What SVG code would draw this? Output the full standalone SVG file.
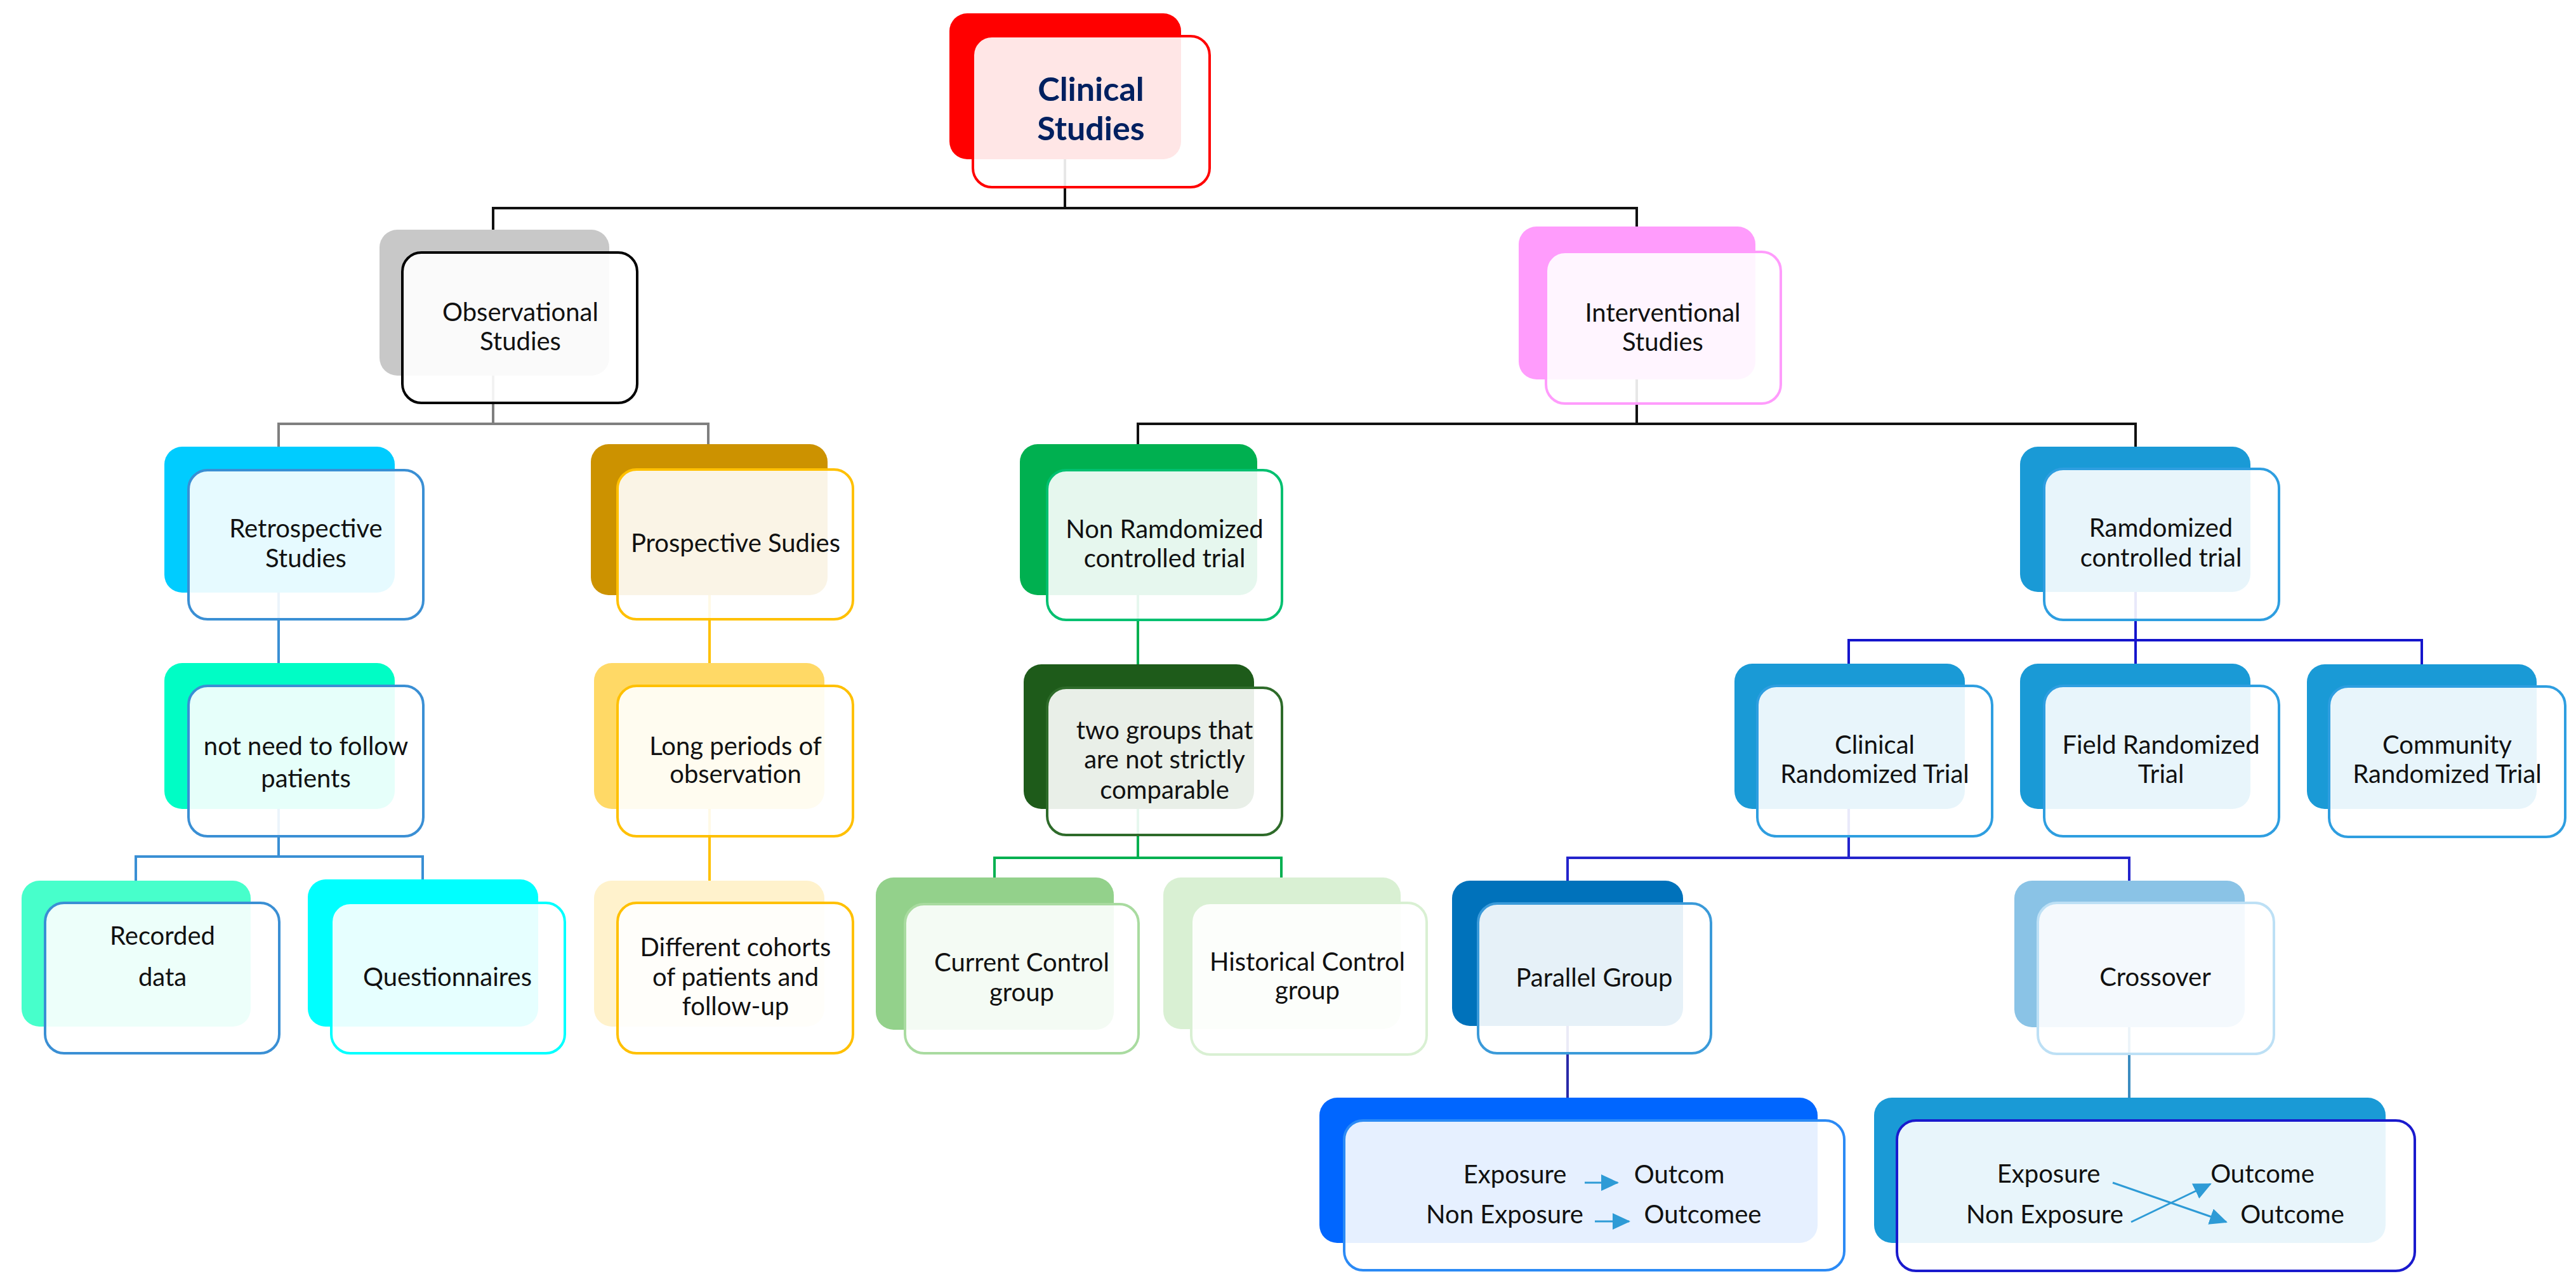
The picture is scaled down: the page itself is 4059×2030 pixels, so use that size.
<svg xmlns="http://www.w3.org/2000/svg" width="4059" height="2030" viewBox="0 0 4059 2030">
<defs>
<style>
.back{stroke:none}
.front{fill:#ffffff;fill-opacity:0.9;stroke-width:4}
text{font-family:"Lato","Liberation Sans",sans-serif;font-size:40px;fill:#111111;text-anchor:middle}
.title{font-weight:bold;font-size:52px;fill:#002060}
.c{fill:none;stroke-width:4;stroke-linecap:square}
.arr{fill:none;stroke:#2e9bd6;stroke-width:3;marker-end:url(#ah)}
</style>
<marker id="ah" markerUnits="userSpaceOnUse" markerWidth="28" markerHeight="26" refX="26" refY="13" orient="auto">
<path d="M0,0 L28,13 L0,26 z" fill="#2e9bd6"/>
</marker>
</defs>
<rect width="4059" height="2030" fill="#ffffff"/>

<g id="connectors">
<path class="c" stroke="#111111" stroke-width="5" d="M1678,251 V328 M777,328 H2579 M777,328 V362 M2579,328 V357"/>
<path class="c" stroke="#7f7f7f" d="M777,592 V668 M439,668 H1116 M439,668 V704 M1116,668 V700"/>
<path class="c" stroke="#111111" stroke-width="5" d="M2579,598 V668 M1793,668 H3365 M1793,668 V700 M3365,668 V704"/>
<path class="c" stroke="#3a8fd4" d="M439,934 V1045 M439,1275 V1350 M214,1350 H666 M214,1350 V1388 M666,1350 V1386"/>
<path class="c" stroke="#ffc000" d="M1118,938 V1045 M1118,1275 V1388"/>
<path class="c" stroke="#00b050" d="M1793,938 V1047 M1793,1275 V1352 M1567,1352 H2019 M1567,1352 V1383 M2019,1352 V1383"/>
<path class="c" stroke="#1515cc" d="M3365,933 V1009 M2913,1009 H3816 M2913,1009 V1046 M3365,1009 V1046 M3816,1009 V1047"/>
<path class="c" stroke="#2323cc" d="M2913,1275 V1352 M2470,1352 H3355 M2470,1352 V1388 M3355,1352 V1388"/>
<path class="c" stroke="#2a2aa8" d="M2470,1617 V1730"/>
<path class="c" stroke="#3c8cc0" d="M3355,1619 V1730"/>
</g>

<g id="n-clinical">
<rect class="back" x="1496" y="21" width="365" height="230" rx="28" fill="#ff0000"/>
<rect class="front" x="1533" y="57" width="373" height="238" rx="30" stroke="#ff0000"/>
<text class="title" x="1719" y="159">Clinical</text>
<text class="title" x="1719" y="221">Studies</text>
</g>

<g id="n-observational">
<rect class="back" x="598" y="362" width="362" height="230" rx="28" fill="#c8c8c8"/>
<rect class="front" x="634" y="398" width="370" height="237" rx="30" stroke="#000000"/>
<text x="820" y="506">Observational</text>
<text x="820" y="552">Studies</text>
</g>

<g id="n-interventional">
<rect class="back" x="2393" y="357" width="373" height="241" rx="28" fill="#ff9cfc"/>
<rect class="front" x="2436" y="397" width="370" height="239" rx="30" stroke="#ff9cfc"/>
<text x="2620" y="507">Interventional</text>
<text x="2620" y="553">Studies</text>
</g>

<g id="n-retrospective">
<rect class="back" x="259" y="704" width="363" height="230" rx="28" fill="#00ccff"/>
<rect class="front" x="297" y="741" width="370" height="235" rx="30" stroke="#3a8fd4"/>
<text x="482" y="847">Retrospective</text>
<text x="482" y="894">Studies</text>
</g>

<g id="n-prospective">
<rect class="back" x="931" y="700" width="373" height="238" rx="28" fill="#cc9200"/>
<rect class="front" x="973" y="740" width="371" height="236" rx="30" stroke="#ffc000"/>
<text x="1159" y="870">Prospective Sudies</text>
</g>

<g id="n-notneed">
<rect class="back" x="259" y="1045" width="363" height="230" rx="28" fill="#00fdc5"/>
<rect class="front" x="297" y="1081" width="370" height="237" rx="30" stroke="#3a8fd4"/>
<text x="482" y="1190">not need to follow</text>
<text x="482" y="1241">patients</text>
</g>

<g id="n-longperiods">
<rect class="back" x="936" y="1045" width="363" height="230" rx="28" fill="#ffd966"/>
<rect class="front" x="973" y="1081" width="371" height="237" rx="30" stroke="#ffc000"/>
<text x="1159" y="1190">Long periods of</text>
<text x="1159" y="1234">observation</text>
</g>

<g id="n-recorded">
<rect class="back" x="34" y="1388" width="361" height="230" rx="28" fill="#47ffcb"/>
<rect class="front" x="71" y="1423" width="369" height="237" rx="30" stroke="#3a8fd4"/>
<text x="256" y="1489">Recorded</text>
<text x="256" y="1554">data</text>
</g>

<g id="n-questionnaires">
<rect class="back" x="485" y="1386" width="363" height="232" rx="28" fill="#00ffff"/>
<rect class="front" x="522" y="1423" width="368" height="237" rx="30" stroke="#00ffff"/>
<text x="705" y="1554">Questionnaires</text>
</g>

<g id="n-cohorts">
<rect class="back" x="936" y="1388" width="363" height="230" rx="28" fill="#fff2cc"/>
<rect class="front" x="973" y="1423" width="371" height="237" rx="30" stroke="#ffc000"/>
<text x="1159" y="1507">Different cohorts</text>
<text x="1159" y="1554">of patients and</text>
<text x="1159" y="1600">follow-up</text>
</g>

<g id="n-nonrandomized">
<rect class="back" x="1607" y="700" width="374" height="238" rx="28" fill="#00b050"/>
<rect class="front" x="1650" y="741" width="370" height="236" rx="30" stroke="#00c070"/>
<text x="1835" y="848">Non Ramdomized</text>
<text x="1835" y="894">controlled trial</text>
</g>

<g id="n-twogroups">
<rect class="back" x="1613" y="1047" width="363" height="228" rx="28" fill="#1e5b1a"/>
<rect class="front" x="1650" y="1084" width="370" height="232" rx="30" stroke="#2e6b2a"/>
<text x="1835" y="1165">two groups that</text>
<text x="1835" y="1211">are not strictly</text>
<text x="1835" y="1259">comparable</text>
</g>

<g id="n-current">
<rect class="back" x="1380" y="1383" width="375" height="240" rx="28" fill="#93d18b"/>
<rect class="front" x="1426" y="1425" width="368" height="235" rx="30" stroke="#a9dba0"/>
<text x="1610" y="1531">Current Control</text>
<text x="1610" y="1578">group</text>
</g>

<g id="n-historical">
<rect class="back" x="1833" y="1383" width="374" height="239" rx="28" fill="#d9f0d3"/>
<rect class="front" x="1877" y="1423" width="371" height="239" rx="30" stroke="#d9f0d3"/>
<text x="2060" y="1530">Historical Control</text>
<text x="2060" y="1575">group</text>
</g>

<g id="n-randomized">
<rect class="back" x="3183" y="704" width="363" height="229" rx="28" fill="#1a9ad6"/>
<rect class="front" x="3221" y="739" width="370" height="238" rx="30" stroke="#2e9ee0"/>
<text x="3405" y="846">Ramdomized</text>
<text x="3405" y="893">controlled trial</text>
</g>

<g id="n-clinicalrandomized">
<rect class="back" x="2733" y="1046" width="363" height="229" rx="28" fill="#1a9ad6"/>
<rect class="front" x="2769" y="1081" width="370" height="237" rx="30" stroke="#2e9ee0"/>
<text x="2954" y="1188">Clinical</text>
<text x="2954" y="1234">Randomized Trial</text>
</g>

<g id="n-field">
<rect class="back" x="3183" y="1046" width="363" height="229" rx="28" fill="#1a9ad6"/>
<rect class="front" x="3221" y="1081" width="370" height="237" rx="30" stroke="#2e9ee0"/>
<text x="3405" y="1188">Field Randomized</text>
<text x="3405" y="1234">Trial</text>
</g>

<g id="n-community">
<rect class="back" x="3635" y="1047" width="362" height="228" rx="28" fill="#1a9ad6"/>
<rect class="front" x="3670" y="1082" width="372" height="237" rx="30" stroke="#2e9ee0"/>
<text x="3856" y="1188">Community</text>
<text x="3856" y="1234">Randomized Trial</text>
</g>

<g id="n-parallel">
<rect class="back" x="2288" y="1388" width="364" height="229" rx="28" fill="#0072bb"/>
<rect class="front" x="2329" y="1424" width="367" height="236" rx="30" stroke="#3a9ad9"/>
<text x="2512" y="1555">Parallel Group</text>
</g>

<g id="n-crossover">
<rect class="back" x="3174" y="1388" width="363" height="231" rx="28" fill="#8ac3e6"/>
<rect class="front" x="3211" y="1423" width="372" height="238" rx="30" stroke="#bde0f5"/>
<text x="3396" y="1554">Crossover</text>
</g>

<g id="n-parallel-outcome">
<rect class="back" x="2079" y="1730" width="785" height="229" rx="28" fill="#0066ff"/>
<rect class="front" x="2118" y="1766" width="788" height="236" rx="30" stroke="#2b8af5"/>
<text x="2387" y="1865">Exposure</text>
<text x="2646" y="1865">Outcom</text>
<text x="2371" y="1928">Non Exposure</text>
<text x="2683" y="1928">Outcomee</text>
<line class="arr" x1="2497" y1="1864" x2="2549" y2="1864"/>
<line class="arr" x1="2513" y1="1925" x2="2567" y2="1925"/>
</g>

<g id="n-crossover-outcome">
<rect class="back" x="2953" y="1730" width="806" height="229" rx="28" fill="#1a9ad6"/>
<rect class="front" x="2989" y="1766" width="816" height="237" rx="30" stroke="#1a1acd"/>
<text x="3228" y="1864">Exposure</text>
<text x="3222" y="1928">Non Exposure</text>
<text x="3565" y="1864">Outcome</text>
<text x="3612" y="1928">Outcome</text>
<line class="arr" x1="3329" y1="1864" x2="3508" y2="1926"/>
<line class="arr" x1="3358" y1="1926" x2="3483" y2="1866"/>
</g>
</svg>
